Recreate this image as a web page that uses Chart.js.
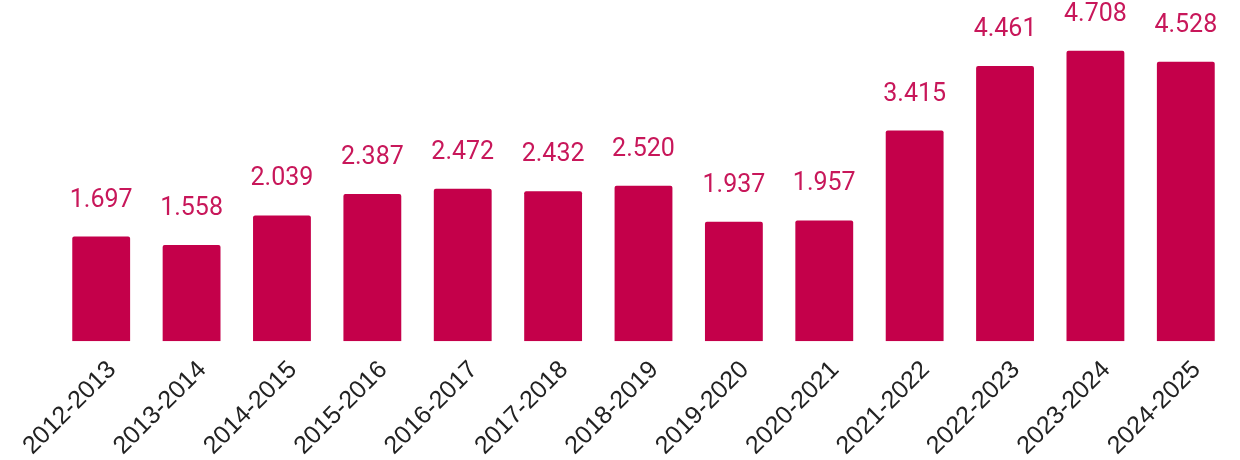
<!DOCTYPE html>
<html>
<head>
<meta charset="utf-8">
<script src="https://cdn.jsdelivr.net/npm/chart.js@4"></script>
<style>
  html, body { margin: 0; padding: 0; background: #ffffff; }
  #wrap { width: 1240px; height: 460px; position: relative; }
</style>
</head>
<body>
<div id="wrap"><canvas id="chart"></canvas></div>
<script>
// Data
const seasons = ['2012-2013', '2013-2014', '2014-2015', '2015-2016', '2016-2017', '2017-2018', '2018-2019',
                 '2019-2020', '2020-2021', '2021-2022', '2022-2023', '2023-2024', '2024-2025'];
const values = [1.697, 1.558, 2.039, 2.387, 2.472, 2.432, 2.520, 1.937, 1.957, 3.415, 4.461, 4.708, 4.528];

const barColor = '#c4004a';

// Draw the value above each bar
const valueLabels = {
    id: 'valueLabels',
    afterDatasetsDraw(chart) {
        const ctx = chart.ctx;
        const meta = chart.getDatasetMeta(0);
        ctx.save();
        ctx.font = '25px Roboto';
        ctx.fillStyle = '#c8175a';
        ctx.textAlign = 'center';
        ctx.textBaseline = 'alphabetic';
        meta.data.forEach((bar, i) => {
            ctx.fillText(values[i].toFixed(3), bar.x, bar.y - 30);
        });
        ctx.restore();
    }
};

new Chart(document.getElementById('chart'), {
    type: 'bar',
    data: {
        labels: seasons,
        datasets: [{
            data: values,
            backgroundColor: barColor,
            borderRadius: 2,
            borderSkipped: 'bottom',
            categoryPercentage: 0.64,
            barPercentage: 1.0
        }]
    },
    options: {
        responsive: true,
        maintainAspectRatio: false,
        animation: false,
        layout: { padding: { left: 56, right: 9, top: 0, bottom: -7 } },
        scales: {
            y: {
                display: false,
                min: 0,
                max: 5.53
            },
            x: {
                grid: { display: false },
                border: { display: false },
                ticks: {
                    color: '#222222',
                    font: { family: 'Liberation Sans', size: 25 },
                    minRotation: 45,
                    maxRotation: 45,
                    labelOffset: 11,
                    padding: 6
                }
            }
        },
        plugins: {
            legend: { display: false },
            tooltip: { enabled: false }
        }
    },
    plugins: [valueLabels]
});
</script>
</body>
</html>
